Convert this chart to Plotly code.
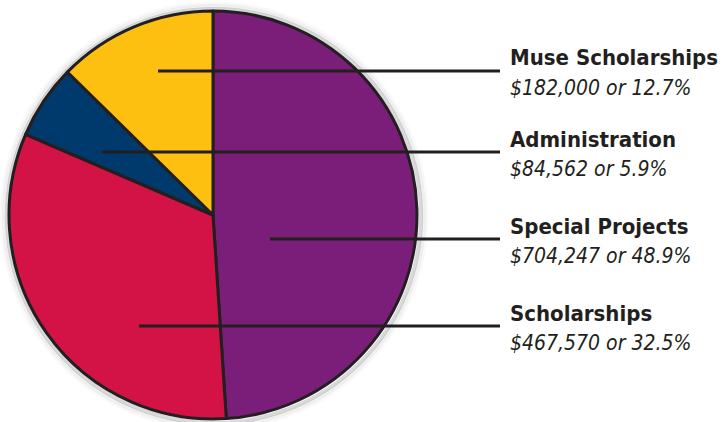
import plotly.graph_objects as go

# Data
categories = ["Special Projects", "Scholarships", "Administration", "Muse Scholarships"]
amounts = [704247, 467570, 84562, 182000]
pct_labels = ["48.9%", "32.5%", "5.9%", "12.7%"]
colors = ["#7B1E7A", "#D31245", "#003A6C", "#FDC010"]

W, H = 724, 422
INK = "#231F20"
FONT = "DejaVu Sans Condensed, DejaVu Sans, sans-serif"

cx, cy, r = 213, 215, 204

fig = go.Figure(go.Pie(
    labels=categories,
    values=amounts,
    sort=False,
    direction="clockwise",
    rotation=0,
    textinfo="none",
    hoverinfo="label+value+percent",
    marker=dict(colors=colors, line=dict(color=INK, width=3)),
    domain=dict(x=[(cx - r) / W, (cx + r) / W], y=[1 - (cy + r) / H, 1 - (cy - r) / H]),
    showlegend=False,
))

# leader lines (pixel positions) and label placement
leaders = {
    "Muse Scholarships": (158, 71),
    "Administration": (102, 152),
    "Special Projects": (270, 239),
    "Scholarships": (139, 326),
}
line_end = 500
text_x = 508

shapes = []
# soft shadow rings around the pie
for dr, wd, a in [(3, 4, 0.15), (6, 4, 0.06), (9, 3, 0.025)]:
    shapes.append(dict(type="circle", xref="paper", yref="paper", layer="below",
                       x0=(cx - r - dr + 1) / W, x1=(cx + r + dr + 1) / W,
                       y0=1 - (cy + r + dr + 1) / H, y1=1 - (cy - r - dr + 1) / H,
                       line=dict(color="rgba(0,0,0,%g)" % a, width=wd)))
annotations = []
for cat, amt, pct in zip(categories, amounts, pct_labels):
    x0, y = leaders[cat]
    shapes.append(dict(type="line", xref="paper", yref="paper",
                       x0=x0 / W, x1=line_end / W, y0=1 - y / H, y1=1 - y / H,
                       line=dict(color=INK, width=3), layer="above"))
    annotations.append(dict(xref="paper", yref="paper", x=text_x / W, y=1 - (y - 13) / H,
                            xanchor="left", yanchor="middle", showarrow=False,
                            text="<b>" + cat + "</b>",
                            font=dict(family=FONT, size=22, color=INK)))
    annotations.append(dict(xref="paper", yref="paper", x=text_x / W, y=1 - (y + 17) / H,
                            xanchor="left", yanchor="middle", showarrow=False,
                            text="<i>${:,} or {}</i>".format(amt, pct),
                            font=dict(family=FONT, size=21, color=INK)))

fig.update_layout(
    width=W, height=H,
    margin=dict(l=0, r=0, t=0, b=0),
    paper_bgcolor="white", plot_bgcolor="white",
    shapes=shapes, annotations=annotations,
)

fig.write_html("out.html", config={"displayModeBar": False},
               post_script="document.body.style.margin='0';")
